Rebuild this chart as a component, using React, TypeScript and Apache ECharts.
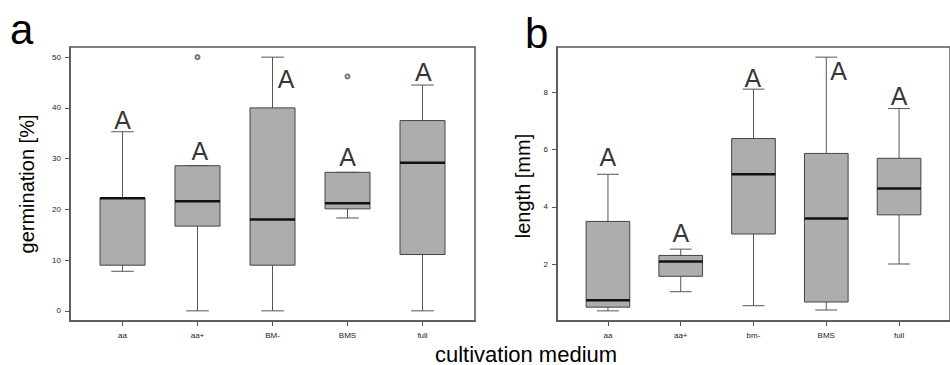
import React, { useEffect, useRef } from "react";
import * as echarts from "echarts";

// ---- Panel a: germination [%] ----
const categoriesA = ["aa", "aa+", "BM-", "BMS", "full"];
const germMin = [7.8, 0, 0, 18.3, 0];
const germQ1 = [9.0, 16.7, 9.0, 20.1, 11.1];
const germMed = [22.2, 21.6, 18.0, 21.2, 29.2];
const germQ3 = [22.3, 28.6, 40.0, 27.3, 37.5];
const germMax = [35.3, 28.6, 50.0, 27.3, 44.5];
const germOutliers: [number, number][] = [
  [2, 50],
  [4, 46.2],
];
const germTicks = [0, 10, 20, 30, 40, 50];
const germLetterX = [1.0, 2.03, 3.18, 4.0, 5.01];
const germLetterY = [37.7, 31.5, 45.7, 30.3, 47.0];

// ---- Panel b: length [mm] ----
const categoriesB = ["aa", "aa+", "bm-", "BMS", "full"];
const lenMin = [0.36, 1.03, 0.54, 0.39, 2.0];
const lenQ1 = [0.49, 1.57, 3.05, 0.67, 3.72];
const lenMed = [0.73, 2.09, 5.14, 3.59, 4.64];
const lenQ3 = [3.49, 2.3, 6.39, 5.87, 5.7];
const lenMax = [5.14, 2.52, 8.12, 9.24, 7.44];
const lenTicks = [2, 4, 6, 8];
const lenLetterX = [1.0, 2.0, 2.99, 4.17, 5.0];
const lenLetterY = [5.76, 3.09, 8.51, 8.77, 7.89];

const letters = ["A", "A", "A", "A", "A"];
const catPositions = [1, 2, 3, 4, 5];

const FONT = "'Liberation Sans', Arial, Helvetica, sans-serif";
const BOX_WIDTH = 0.6;

function buildBoxData(mn: number[], q1: number[], md: number[], q3: number[], mx: number[]) {
  return catPositions.map((x, i) => [x, mn[i], q1[i], md[i], q3[i], mx[i]]);
}

const renderBox = (_params: any, api: any) => {
  const x = api.value(0);
  const pLo = api.coord([x, api.value(1)]);
  const pQ1 = api.coord([x, api.value(2)]);
  const pMd = api.coord([x, api.value(3)]);
  const pQ3 = api.coord([x, api.value(4)]);
  const pHi = api.coord([x, api.value(5)]);
  const halfW = api.size([BOX_WIDTH, 0])[0] / 2;
  const capW = halfW / 2;
  const cx = pMd[0];
  const wStyle = { stroke: "#555", lineWidth: 1 };
  return {
    type: "group",
    children: [
      { type: "line", shape: { x1: cx, y1: pQ3[1], x2: cx, y2: pHi[1] }, style: wStyle },
      { type: "line", shape: { x1: cx, y1: pQ1[1], x2: cx, y2: pLo[1] }, style: wStyle },
      { type: "line", shape: { x1: cx - capW, y1: pHi[1], x2: cx + capW, y2: pHi[1] }, style: wStyle },
      { type: "line", shape: { x1: cx - capW, y1: pLo[1], x2: cx + capW, y2: pLo[1] }, style: wStyle },
      {
        type: "rect",
        shape: { x: cx - halfW, y: pQ3[1], width: 2 * halfW, height: pQ1[1] - pQ3[1] },
        style: { fill: "#adadad", stroke: "#444", lineWidth: 1 },
      },
      {
        type: "line",
        shape: { x1: cx - halfW, y1: pMd[1], x2: cx + halfW, y2: pMd[1] },
        style: { stroke: "#111", lineWidth: 2.5 },
      },
    ],
  };
};

function xAxisFor(gridIndex: number, cats: string[]) {
  return {
    type: "value",
    gridIndex,
    min: 0.3,
    max: 5.7,
    splitLine: { show: false },
    axisLine: { show: true, onZero: false, lineStyle: { color: "#555", width: 1.5 } },
    axisTick: { show: true, customValues: catPositions, length: 5, lineStyle: { color: "#555" } },
    axisLabel: {
      customValues: catPositions,
      formatter: (v: number) => cats[Math.round(v) - 1] ?? "",
      fontSize: 8,
      color: "#222",
      fontFamily: FONT,
      margin: 10,
    },
  };
}

function yAxisFor(gridIndex: number, min: number, max: number, ticks: number[]) {
  return {
    type: "value",
    gridIndex,
    min,
    max,
    splitLine: { show: false },
    axisLine: { show: true, onZero: false, lineStyle: { color: "#555", width: 1.5 } },
    axisTick: { show: true, customValues: ticks, length: 5, lineStyle: { color: "#555" } },
    axisLabel: {
      customValues: ticks,
      fontSize: 8,
      color: "#222",
      fontFamily: FONT,
      margin: 9,
    },
  };
}

function letterSeries(idx: number, xs: number[], ys: number[]) {
  return {
    type: "scatter",
    xAxisIndex: idx,
    yAxisIndex: idx,
    symbolSize: 0,
    silent: true,
    data: xs.map((x, i) => [x, ys[i]]),
    label: {
      show: true,
      position: "inside",
      formatter: (p: any) => letters[p.dataIndex],
      fontSize: 25,
      color: "#000",
      fontFamily: FONT,
      textBorderWidth: 0,
    },
  };
}

export default function App() {
  const ref = useRef<HTMLDivElement>(null);
  useEffect(() => {
    if (!ref.current) return;
    const chart = echarts.init(ref.current, undefined, { renderer: "svg" });
    chart.setOption({
      animation: false,
      backgroundColor: "#fff",
      grid: [
        { left: 70, top: 47, width: 405, height: 274, show: true, borderColor: "#555", borderWidth: 1.5, backgroundColor: "transparent" },
        { left: 557, top: 47, width: 405, height: 274, show: true, borderColor: "#555", borderWidth: 1.5, backgroundColor: "transparent" },
      ],
      xAxis: [xAxisFor(0, categoriesA), xAxisFor(1, categoriesB)],
      yAxis: [yAxisFor(0, -2, 52, germTicks), yAxisFor(1, 0.005, 9.595, lenTicks)],
      series: [
        {
          type: "custom",
          xAxisIndex: 0,
          yAxisIndex: 0,
          renderItem: renderBox,
          encode: { x: 0, y: [1, 2, 3, 4, 5] },
          data: buildBoxData(germMin, germQ1, germMed, germQ3, germMax),
        },
        {
          type: "scatter",
          xAxisIndex: 0,
          yAxisIndex: 0,
          symbol: "emptyCircle",
          symbolSize: 4,
          itemStyle: { color: "#555", borderWidth: 0.8 },
          data: germOutliers,
        },
        letterSeries(0, germLetterX, germLetterY),
        {
          type: "custom",
          xAxisIndex: 1,
          yAxisIndex: 1,
          renderItem: renderBox,
          encode: { x: 0, y: [1, 2, 3, 4, 5] },
          data: buildBoxData(lenMin, lenQ1, lenMed, lenQ3, lenMax),
        },
        letterSeries(1, lenLetterX, lenLetterY),
      ],
      graphic: [
        { type: "text", left: 10, top: 8, style: { text: "a", fontSize: 42, fontFamily: FONT, fill: "#000" } },
        { type: "text", left: 525, top: 12, style: { text: "b", fontSize: 42, fontFamily: FONT, fill: "#000" } },
        {
          type: "text",
          x: 27,
          y: 184,
          rotation: Math.PI / 2,
          style: { text: "germination [%]", fontSize: 20, fontFamily: FONT, fill: "#000", align: "center", verticalAlign: "middle" },
        },
        {
          type: "text",
          x: 523,
          y: 186,
          rotation: Math.PI / 2,
          style: { text: "length [mm]", fontSize: 20, fontFamily: FONT, fill: "#000", align: "center", verticalAlign: "middle" },
        },
        {
          type: "text",
          x: 526,
          y: 354,
          style: { text: "cultivation medium", fontSize: 22, fontFamily: FONT, fill: "#000", align: "center", verticalAlign: "middle" },
        },
      ],
    });
    return () => chart.dispose();
  }, []);
  return (
    <div
      ref={ref}
      style={{ position: "absolute", left: 0, top: 0, width: 950, height: 365, background: "#fff" }}
    />
  );
}
